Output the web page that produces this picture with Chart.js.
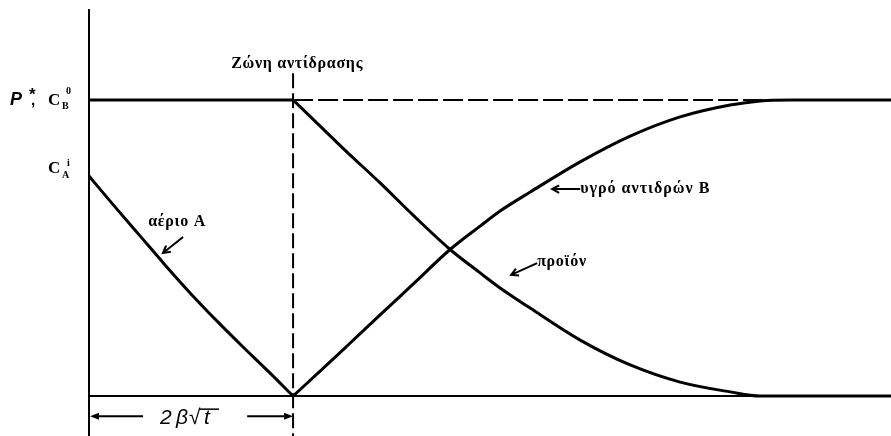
<!DOCTYPE html>
<html>
<head>
<meta charset="utf-8">
<script src="https://cdn.jsdelivr.net/npm/chart.js@4"></script>
<style>
  html, body { margin: 0; padding: 0; background: #fff; }
  #wrap { width: 891px; height: 436px; }
</style>
</head>
<body>
<div id="wrap"><canvas id="c"></canvas></div>
<script>
// Distance from the gas–liquid interface (reaction zone sits at 2 = 2β√t)
const ZONE_X = 2.0;
const X_MAX = 7.86;
const Y_MIN = -0.135;
const Y_MAX = 1.304;

// Dissolved gas A: falls from C_A^i at the interface to zero at the reaction zone
const gasX = [0, 0.255, 0.5, 0.745, 1.0, 1.255, 1.5, 1.755, 2.0];
const gasY = [0.743, 0.639, 0.541, 0.443, 0.345, 0.253, 0.169, 0.084, 0];

// Product: highest at the reaction zone, vanishing deeper in the liquid
const productX = [2.0, 2.265, 2.529, 2.853, 3.176, 3.539, 3.833, 4.029, 4.324, 4.814, 5.304, 5.794, 6.284, 6.578, 7.86];
const productY = [1.0, 0.912, 0.824, 0.720, 0.611, 0.495, 0.416, 0.365, 0.297, 0.189, 0.105, 0.047, 0.014, 0, 0];

// Liquid reactant B: zero at the reaction zone, recovering to the bulk value C_B^0
const liquidX = [2.0, 2.265, 2.529, 2.853, 3.176, 3.539, 3.833, 4.029, 4.324, 4.814, 5.304, 5.794, 6.284, 6.578, 6.873, 7.86];
const liquidY = [0, 0.084, 0.169, 0.274, 0.378, 0.495, 0.574, 0.625, 0.689, 0.791, 0.878, 0.943, 0.983, 0.997, 1.0, 1.0];

// Reference levels on the vertical axis
const levelValues = [1.0, 0.743];          // P*, C_B^0  and  C_A^i
const zoneTopY = 1.09;                      // top of the reaction-zone marker
const scaleBarY = -0.068;                   // height of the 2β√t dimension line

// Text
const zoneLabel = 'Ζώνη αντίδρασης';
const curveLabels = ['αέριο Α', 'υγρό αντιδρών Β', 'προϊόν'];

const pts = (xs, ys) => xs.map((x, i) => ({ x, y: ys[i] }));

const curveStyle = {
  borderColor: '#000', borderWidth: 3, pointRadius: 0,
  cubicInterpolationMode: 'monotone', fill: false
};

const whiteBg = {
  id: 'whiteBg',
  beforeDraw(chart) {
    const c = chart.ctx;
    c.save();
    c.fillStyle = '#fff';
    c.fillRect(0, 0, chart.width, chart.height);
    c.restore();
  }
};

function openArrow(c, x1, y1, x2, y2, len) {
  // line from (x1,y1) with an open head at (x2,y2)
  const a = Math.atan2(y2 - y1, x2 - x1);
  c.beginPath();
  c.moveTo(x1, y1); c.lineTo(x2, y2);
  c.moveTo(x2 - len * Math.cos(a - 0.5), y2 - len * Math.sin(a - 0.5));
  c.lineTo(x2, y2);
  c.lineTo(x2 - len * Math.cos(a + 0.5), y2 - len * Math.sin(a + 0.5));
  c.stroke();
}

function solidArrow(c, x1, y1, x2, y2, len, half) {
  const a = Math.atan2(y2 - y1, x2 - x1);
  c.beginPath();
  c.moveTo(x1, y1); c.lineTo(x2 - len * Math.cos(a), y2 - len * Math.sin(a));
  c.stroke();
  c.beginPath();
  c.moveTo(x2, y2);
  c.lineTo(x2 - len * Math.cos(a) + half * Math.sin(a), y2 - len * Math.sin(a) - half * Math.cos(a));
  c.lineTo(x2 - len * Math.cos(a) - half * Math.sin(a), y2 - len * Math.sin(a) + half * Math.cos(a));
  c.closePath();
  c.fill();
}

const annotations = {
  id: 'annotations',
  afterDraw(chart) {
    const c = chart.ctx;
    const xs = chart.scales.x, ys = chart.scales.y;
    const px = v => xs.getPixelForValue(v);
    const py = v => ys.getPixelForValue(v);
    const serifB = s => `bold ${s}px "Liberation Serif", "DejaVu Serif", serif`;
    c.save();
    c.fillStyle = '#000';
    c.strokeStyle = '#000';
    c.textBaseline = 'alphabetic';

    // Vertical-axis level labels
    const yB = py(levelValues[0]);
    c.font = 'italic bold 18px "Liberation Sans", Arial, sans-serif';
    c.fillText('P', 10, yB + 5);
    c.font = 'bold 17px "Liberation Sans", Arial, sans-serif';
    c.fillText('*', 29, yB);
    c.font = 'bold 15px "Liberation Sans", Arial, sans-serif';
    c.fillText(',', 31, yB + 5);
    c.font = serifB(17);
    c.fillText('C', 48, yB + 5);
    c.font = serifB(10);
    c.fillText('B', 62, yB + 9);
    c.fillText('0', 66, yB - 6);

    const yA = py(levelValues[1]);
    c.font = serifB(17);
    c.fillText('C', 48, yA - 3);
    c.font = serifB(10);
    c.fillText('A', 62, yA + 2);
    c.fillText('i', 67, yA - 10);

    // Reaction-zone caption
    c.letterSpacing = '0.7px';
    c.font = serifB(16);
    c.textAlign = 'center';
    c.fillText(zoneLabel, px(2.04), py(1.125) + 5);
    c.textAlign = 'left';

    // Curve captions with pointers
    c.lineWidth = 2;
    c.textBaseline = 'middle';
    c.textAlign = 'center';
    c.fillText(curveLabels[0], px(0.863), py(0.588));
    c.textAlign = 'left';
    openArrow(c, px(0.922), py(0.537), px(0.725), py(0.483), 8);

    c.letterSpacing = '1px';
    c.fillText(curveLabels[1], px(4.814), py(0.699));
    openArrow(c, px(4.814), py(0.699), px(4.539), py(0.699), 8);

    c.letterSpacing = '0.7px';
    c.fillText(curveLabels[2], px(4.392), py(0.453));
    openArrow(c, px(4.392), py(0.449), px(4.137), py(0.409), 8);
    c.letterSpacing = '0px';

    // 2β√t dimension line
    const yBar = py(scaleBarY);
    c.lineWidth = 2;
    solidArrow(c, px(0.53), yBar, px(0.01), yBar, 9, 3.5);
    solidArrow(c, px(1.55), yBar, px(ZONE_X), yBar, 9, 3.5);
    c.textBaseline = 'alphabetic';
    c.font = 'italic 21px "Liberation Sans", Arial, sans-serif';
    const base = yBar + 8;
    c.fillText('2', 160, base);
    c.fillText('β', 176, base);
    c.fillText('√', 189, base);
    c.fillText('t', 204, base);
    c.lineWidth = 1.5;
    c.beginPath();
    c.moveTo(199, base - 15);
    c.lineTo(219, base - 15);
    c.stroke();

    c.restore();
  }
};

new Chart(document.getElementById('c'), {
  type: 'line',
  data: {
    datasets: [
      { label: 'αέριο Α', data: pts(gasX, gasY), ...curveStyle },
      { label: 'προϊόν', data: pts(productX, productY), ...curveStyle },
      { label: 'υγρό αντιδρών Β', data: pts(liquidX, liquidY), ...curveStyle },
      { label: 'P*', data: [{ x: 0, y: levelValues[0] }, { x: ZONE_X, y: levelValues[0] }],
        borderColor: '#000', borderWidth: 3, pointRadius: 0 },
      { label: 'C_B^0', data: [{ x: ZONE_X, y: levelValues[0] }, { x: X_MAX, y: levelValues[0] }],
        borderColor: '#000', borderWidth: 2, borderDash: [20, 5], pointRadius: 0 },
      { label: 'zone', data: [{ x: ZONE_X, y: zoneTopY }, { x: ZONE_X, y: Y_MIN }],
        borderColor: '#000', borderWidth: 2, borderDash: [15, 5], pointRadius: 0 }
    ]
  },
  options: {
    responsive: true,
    maintainAspectRatio: false,
    animation: false,
    layout: { padding: { left: 89, right: 0, top: 10, bottom: 0 } },
    plugins: { legend: { display: false }, tooltip: { enabled: false } },
    scales: {
      x: {
        type: 'linear', min: 0, max: X_MAX, position: { y: 0 },
        ticks: { display: false },
        grid: { display: false, drawTicks: false },
        border: { display: true, color: '#000', width: 2 },
        afterFit(s) { s.height = 0; }
      },
      y: {
        type: 'linear', min: Y_MIN, max: Y_MAX,
        ticks: { display: false },
        grid: { display: false, drawTicks: false },
        border: { display: true, color: '#000', width: 2 },
        afterFit(s) { s.width = 0; }
      }
    }
  },
  plugins: [whiteBg, annotations]
});
</script>
</body>
</html>
